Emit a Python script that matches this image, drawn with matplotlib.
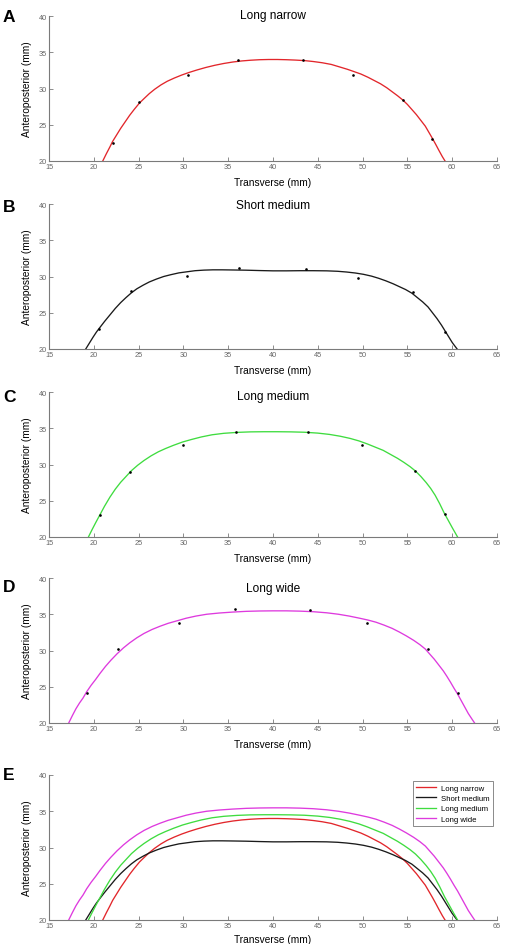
import numpy as np
import matplotlib
matplotlib.use("Agg")
import matplotlib.pyplot as plt

plt.rcParams['font.family'] = ['Liberation Sans', 'DejaVu Sans']

# -------- DATA --------
names = ["Long narrow", "Short medium", "Long medium", "Long wide"]
letters = ["A", "B", "C", "D", "E"]
colors = ["#e2262b", "#1a1a1a", "#3fdc3f", "#de3ade"]

# fitted curves
narrow_x = [21.0, 21.4, 21.8, 22.1, 22.5, 23.0, 23.5, 24.0, 24.5, 25.1, 25.6, 26.2, 26.8, 27.5, 28.2, 29.0,
            29.8, 30.6, 31.5, 32.5, 33.5, 34.5, 35.5, 36.5, 37.5, 38.5, 39.5, 40.5, 41.5, 42.5, 43.5, 44.5,
            45.5, 46.5, 47.5, 48.3, 49.0, 49.8, 50.6, 51.3, 52.0, 52.7, 53.3, 53.9, 54.5, 55.0, 55.5, 56.0,
            56.5, 57.0, 57.4, 57.8, 58.2, 58.5, 58.9, 59.2]
narrow_y = [20.0, 21.0, 21.95, 22.7, 23.5, 24.5, 25.4, 26.3, 27.1, 28.0, 28.6, 29.3, 29.9, 30.5, 31.0, 31.45,
            31.85, 32.2, 32.55, 32.9, 33.2, 33.45, 33.65, 33.8, 33.9, 33.97, 34.0, 34.0, 33.97, 33.92, 33.85, 33.72,
            33.55, 33.32, 32.95, 32.65, 32.35, 32.0, 31.55, 31.1, 30.65, 30.1, 29.55, 29.0, 28.4, 27.8, 27.1, 26.4,
            25.6, 24.8, 23.95, 23.1, 22.2, 21.5, 20.6, 20.0]

short_x = [19.1, 19.5, 19.9, 20.3, 20.7, 21.2, 21.8, 22.4, 23.0, 23.6, 24.2, 24.8, 25.5, 26.2, 27.0, 27.8,
           28.6, 29.5, 30.4, 31.3, 32.3, 33.3, 34.3, 35.5, 37.0, 38.5, 40.0, 41.5, 43.0, 44.5, 46.0, 47.2,
           48.2, 49.2, 50.1, 51.0, 51.8, 52.6, 53.4, 54.1, 54.8, 55.5, 56.1, 56.7, 57.3, 57.8, 58.3, 58.8,
           59.2, 59.6, 60.0, 60.3, 60.55]
short_y = [20.0, 20.8, 21.6, 22.35, 23.0, 23.8, 24.7, 25.6, 26.4, 27.1, 27.75, 28.3, 28.8, 29.25, 29.65, 30.0,
           30.25, 30.5, 30.65, 30.8, 30.88, 30.92, 30.92, 30.9, 30.87, 30.82, 30.78, 30.78, 30.8, 30.8, 30.78, 30.72,
           30.62, 30.48, 30.3, 30.05, 29.75, 29.4, 29.0, 28.6, 28.2, 27.7, 27.1, 26.5, 25.8, 25.0, 24.2, 23.3,
           22.5, 21.7, 20.9, 20.4, 20.0]

medium_x = [19.4, 19.8, 20.2, 20.7, 21.2, 21.8, 22.4, 23.0, 23.6, 24.2, 24.9, 25.6, 26.4, 27.2, 28.0, 28.9,
            29.9, 30.9, 32.0, 33.2, 34.5, 36.0, 37.5, 39.0, 40.5, 42.0, 43.5, 45.0, 46.3, 47.5, 48.6, 49.6,
            50.5, 51.4, 52.3, 53.1, 53.9, 54.6, 55.3, 55.9, 56.5, 57.1, 57.6, 58.1, 58.6, 59.15, 59.6, 60.0,
            60.3, 60.6]
medium_y = [20.0, 21.0, 21.95, 23.1, 24.25, 25.5, 26.6, 27.55, 28.35, 29.15, 29.9, 30.55, 31.2, 31.75, 32.2, 32.65,
            33.1, 33.45, 33.8, 34.1, 34.3, 34.43, 34.5, 34.52, 34.52, 34.5, 34.45, 34.33, 34.15, 33.9, 33.6, 33.25,
            32.85, 32.4, 31.95, 31.4, 30.85, 30.3, 29.7, 29.1, 28.35, 27.5, 26.7, 25.75, 24.6, 23.2, 22.2, 21.3,
            20.65, 20.0]

wide_x = [17.2, 17.6, 18.0, 18.4, 18.8, 19.2, 19.7, 20.2, 20.7, 21.3, 21.9, 22.6, 23.3, 24.0, 24.8, 25.6,
          26.5, 27.4, 28.3, 29.3, 30.3, 31.4, 32.6, 34.0, 35.5, 37.0, 38.5, 40.0, 41.5, 43.0, 44.5, 46.0,
          47.3, 48.5, 49.6, 50.6, 51.5, 52.4, 53.3, 54.1, 54.9, 55.7, 56.4, 57.0, 57.5, 58.0, 58.5, 59.0,
          59.4, 59.8, 60.2, 60.6, 61.0, 61.4, 61.8, 62.2, 62.5]
wide_y = [20.0, 21.0, 21.95, 22.75, 23.45, 24.3, 25.2, 26.0, 26.85, 27.8, 28.65, 29.55, 30.35, 31.05, 31.75, 32.35,
          32.9, 33.35, 33.75, 34.1, 34.45, 34.75, 35.0, 35.17, 35.3, 35.4, 35.45, 35.47, 35.47, 35.43, 35.35, 35.2,
          35.0, 34.75, 34.47, 34.2, 33.9, 33.5, 33.05, 32.55, 32.0, 31.4, 30.8, 30.2, 29.5, 28.8, 28.0, 27.2,
          26.45, 25.65, 24.8, 24.0, 23.1, 22.2, 21.3, 20.55, 20.0]

# measured points
narrow_px = [22.1, 25.1, 30.5, 36.1, 43.3, 48.9, 54.5, 57.8]
narrow_py = [22.5, 28.1, 31.8, 33.9, 34.0, 31.9, 28.4, 23.0]
short_px = [20.55, 24.1, 30.35, 36.2, 43.7, 49.5, 55.65, 59.2]
short_py = [22.7, 28.0, 30.05, 31.15, 31.0, 29.85, 27.8, 22.4]
medium_px = [20.7, 24.0, 29.9, 35.9, 43.9, 49.9, 55.9, 59.15]
medium_py = [23.1, 29.0, 32.75, 34.55, 34.55, 32.75, 29.1, 23.2]
wide_px = [19.2, 22.7, 29.5, 35.75, 44.15, 50.45, 57.35, 60.6]
wide_py = [24.2, 30.15, 33.8, 35.7, 35.6, 33.8, 30.15, 24.2]

curves = [(narrow_x, narrow_y), (short_x, short_y), (medium_x, medium_y), (wide_x, wide_y)]
points = [(narrow_px, narrow_py), (short_px, short_py), (medium_px, medium_py), (wide_px, wide_py)]

x_ticks = [15, 20, 25, 30, 35, 40, 45, 50, 55, 60, 65]
y_ticks = [20, 25, 30, 35, 40]

# -------- LAYOUT --------
W, H = 505, 945
fig = plt.figure(figsize=(W / 100, H / 100), dpi=100)

ax_top = [17, 205, 393, 579, 776]       # pixel rows of axes tops
ax_h = 145
left, right = 49, 497
title_off = [-1, 1, 4, 10]              # title centre below axes top (px)
letter_off = [1, 2, 5, 9, 0]

spine_col = "#7a7a7a"
tick_col = "#666666"


def style_axes(ax, xpad=5):
    ax.set_xlim(15, 65)
    ax.set_ylim(20, 40)
    ax.set_xticks(x_ticks)
    ax.set_yticks(y_ticks)
    for s in ["top", "right"]:
        ax.spines[s].set_visible(False)
    for s in ["left", "bottom"]:
        ax.spines[s].set_color(spine_col)
        ax.spines[s].set_linewidth(0.8)
    ax.tick_params(direction="in", length=3, width=0.6, colors=spine_col,
                   labelcolor=tick_col, labelsize=5.3, pad=1.5)
    ax.set_xlabel("Transverse (mm)", fontsize=7.3, labelpad=xpad)
    ax.set_ylabel("Anteroposterior (mm)", fontsize=7.3, labelpad=5)


axes = []
for i in range(5):
    bottom = 1 - (ax_top[i] + ax_h) / H
    ax = fig.add_axes([left / W, bottom, (right - left) / W, ax_h / H])
    ax.set_facecolor("none")
    style_axes(ax, xpad=5 if i < 4 else 3.5)
    axes.append(ax)
    fig.text(3 / W, 1 - (ax_top[i] + letter_off[i]) / H, letters[i],
             fontsize=12.5, fontweight="bold", ha="left", va="center")

# -------- PANELS A-D --------
for i in range(4):
    ax = axes[i]
    cx, cy = curves[i]
    px, py = points[i]
    ax.plot(cx, cy, color=colors[i], lw=0.95, zorder=2)
    ax.plot(px, py, "o", color="black", markersize=1.9, markeredgewidth=0, zorder=3)
    ax.text(0.5, 1 - title_off[i] / ax_h, names[i], transform=ax.transAxes,
            ha="center", va="center", fontsize=8.6)

# -------- PANEL E --------
ax = axes[4]
for i in range(4):
    cx, cy = curves[i]
    ax.plot(cx, cy, color=colors[i], lw=0.95, label=names[i])
leg = ax.legend(loc="upper right", bbox_to_anchor=(1.0, 0.985), fontsize=5.6,
                frameon=True, fancybox=False, handlelength=2.6,
                borderpad=0.45, labelspacing=0.35, handletextpad=0.6)
leg.get_frame().set_edgecolor("#555555")
leg.get_frame().set_linewidth(0.6)

plt.savefig("out.png", dpi=100)
